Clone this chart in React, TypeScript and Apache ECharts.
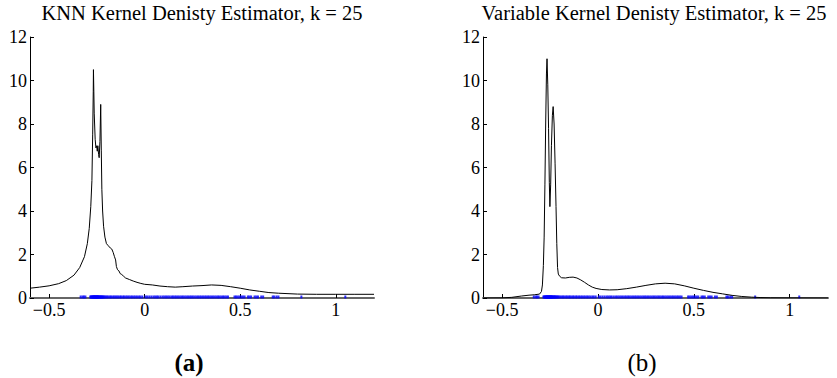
import React, { useEffect, useRef } from "react";
import * as echarts from "echarts";

const titleLeft = "KNN Kernel Denisty Estimator, k = 25";
const titleRight = "Variable Kernel Denisty Estimator, k = 25";
const captionLeft = "(a)";
const captionRight = "(b)";

const xTicks = [-0.5, 0, 0.5, 1];
const yTicks = [0, 2, 4, 6, 8, 10, 12];

// KNN kernel density estimate (x, density)
const knnX = [-0.6, -0.55, -0.5, -0.45, -0.41, -0.37, -0.34, -0.315, -0.3, -0.29, -0.282, -0.276, -0.272, -0.269, -0.268, -0.264, -0.259, -0.255, -0.251, -0.248, -0.245, -0.241, -0.238, -0.234, -0.23, -0.227, -0.224, -0.22, -0.215, -0.208, -0.2, -0.19, -0.18, -0.172, -0.165, -0.158, -0.152, -0.148, -0.142, -0.135, -0.128, -0.12, -0.11, -0.1, -0.08, -0.06, -0.04, -0.02, 0, 0.04, 0.08, 0.12, 0.16, 0.2, 0.25, 0.3, 0.35, 0.4, 0.45, 0.5, 0.55, 0.6, 0.65, 0.7, 0.8, 0.9, 1.0, 1.1, 1.2];
const knnY = [0.45, 0.5, 0.56, 0.66, 0.8, 1.05, 1.4, 1.9, 2.5, 3.2, 4.2, 5.4, 7.5, 9.5, 10.5, 8.5, 7.3, 6.9, 7.0, 6.75, 7.0, 6.6, 6.45, 7.2, 8.9, 6.8, 5.0, 4.0, 3.3, 2.8, 2.5, 2.4, 2.3, 2.25, 2.1, 1.9, 1.75, 1.45, 1.3, 1.25, 1.12, 1.08, 1.0, 0.92, 0.85, 0.78, 0.72, 0.67, 0.63, 0.6, 0.55, 0.52, 0.5, 0.52, 0.55, 0.57, 0.6, 0.58, 0.52, 0.45, 0.37, 0.31, 0.25, 0.22, 0.18, 0.17, 0.17, 0.17, 0.17];

// Variable kernel density estimate (x, density)
const varX = [-0.6, -0.5, -0.45, -0.4, -0.36, -0.33, -0.305, -0.295, -0.29, -0.285, -0.281, -0.277, -0.273, -0.269, -0.266, -0.262, -0.258, -0.254, -0.251, -0.247, -0.243, -0.238, -0.234, -0.229, -0.224, -0.219, -0.215, -0.211, -0.207, -0.2, -0.19, -0.17, -0.15, -0.13, -0.11, -0.09, -0.07, -0.05, -0.03, -0.01, 0.02, 0.06, 0.1, 0.15, 0.2, 0.25, 0.3, 0.35, 0.4, 0.45, 0.5, 0.55, 0.6, 0.65, 0.7, 0.75, 0.8, 0.85, 0.9, 1.0, 1.2];
const varY = [0, 0.005, 0.03, 0.09, 0.13, 0.15, 0.18, 0.3, 0.6, 1.5, 2.8, 5.2, 8.0, 10.3, 11.0, 9.8, 7.8, 5.3, 4.2, 5.2, 7.0, 8.4, 8.8, 8.0, 6.2, 4.2, 2.5, 1.4, 1.1, 1.0, 0.93, 0.92, 0.95, 0.96, 0.92, 0.83, 0.72, 0.6, 0.5, 0.44, 0.39, 0.37, 0.38, 0.43, 0.5, 0.58, 0.65, 0.68, 0.65, 0.56, 0.45, 0.35, 0.26, 0.19, 0.12, 0.07, 0.04, 0.02, 0.01, 0.005, 0];

// Sample locations (rug)
const samples = [-0.335, -0.325, -0.318, -0.31, -0.285, -0.281, -0.278, -0.275, -0.272, -0.27, -0.268, -0.266, -0.264, -0.262, -0.26, -0.258, -0.256, -0.254, -0.252, -0.25, -0.248, -0.246, -0.244, -0.242, -0.24, -0.237, -0.234, -0.231, -0.228, -0.225, -0.222, -0.218, -0.214, -0.209, -0.204, -0.197, -0.19, -0.183, -0.176, -0.168, -0.161, -0.153, -0.147, -0.139, -0.131, -0.124, -0.115, -0.108, -0.099, -0.091, -0.083, -0.074, -0.066, -0.057, -0.049, -0.04, -0.03, -0.022, -0.012, 0.004, 0.013, 0.024, 0.035, 0.046, 0.055, 0.064, 0.072, 0.083, 0.094, 0.103, 0.112, 0.121, 0.13, 0.14, 0.148, 0.157, 0.165, 0.174, 0.183, 0.192, 0.2, 0.209, 0.218, 0.227, 0.236, 0.244, 0.252, 0.261, 0.27, 0.279, 0.288, 0.296, 0.305, 0.314, 0.322, 0.331, 0.339, 0.348, 0.357, 0.366, 0.375, 0.384, 0.392, 0.401, 0.41, 0.418, 0.427, 0.436, 0.47, 0.478, 0.487, 0.496, 0.505, 0.514, 0.523, 0.54, 0.548, 0.557, 0.575, 0.584, 0.593, 0.61, 0.62, 0.67, 0.678, 0.69, 0.7, 0.82, 1.05];

const FONT = "Liberation Serif";

const fmtX = (v: number) => (v < 0 ? "\u2212" + String(Math.abs(v)) : String(v));

function makeX(idx: number) {
  return {
    type: "value",
    gridIndex: idx,
    min: -0.6,
    max: 1.2,
    axisLine: { show: true, onZero: false, lineStyle: { color: "#666", width: 2 } },
    axisTick: { show: true, inside: true, length: 4, customValues: xTicks, lineStyle: { color: "#000", width: 1 } },
    axisLabel: { customValues: xTicks, formatter: fmtX, color: "#000", fontSize: 18, fontFamily: FONT, margin: 3 },
    splitLine: { show: false },
  };
}

function makeY(idx: number) {
  return {
    type: "value",
    gridIndex: idx,
    min: 0,
    max: 12,
    interval: 2,
    axisLine: { show: true, onZero: false, lineStyle: { color: "#000", width: 1 } },
    axisTick: { show: true, inside: true, length: 4, customValues: yTicks, lineStyle: { color: "#000", width: 1 } },
    axisLabel: { customValues: yTicks, color: "#000", fontSize: 18, fontFamily: FONT, margin: 3 },
    splitLine: { show: false },
  };
}

function txt(text: string, x: number, y: number, size: number, weight: string) {
  return {
    type: "text",
    x,
    y,
    style: { text, fill: "#000", fontSize: size, fontFamily: FONT, fontWeight: weight, align: "center", verticalAlign: "middle" },
  };
}

export default function App() {
  const ref = useRef<HTMLDivElement>(null);
  useEffect(() => {
    if (!ref.current) return;
    const chart = echarts.init(ref.current, undefined, { renderer: "svg" });
    const knn = knnX.map((x, i) => [x, knnY[i]]);
    const vk = varX.map((x, i) => [x, varY[i]]);
    const rug = samples.map((x) => [x, 0]);
    chart.setOption({
      animation: false,
      backgroundColor: "#fff",
      grid: [
        { left: 30, top: 37, width: 344, height: 261 },
        { left: 483, top: 37, width: 345, height: 261 },
      ],
      xAxis: [makeX(0), makeX(1)],
      yAxis: [makeY(0), makeY(1)],
      series: [
        { type: "scatter", xAxisIndex: 0, yAxisIndex: 0, data: rug, symbol: "rect", symbolSize: [2, 3], symbolOffset: [0, -1], itemStyle: { color: "#0000ff" }, silent: true, z: 3 },
        { type: "line", xAxisIndex: 0, yAxisIndex: 0, data: knn, showSymbol: false, lineStyle: { color: "#000", width: 1 }, z: 4 },
        { type: "scatter", xAxisIndex: 1, yAxisIndex: 1, data: rug, symbol: "rect", symbolSize: [2, 3], symbolOffset: [0, -1], itemStyle: { color: "#0000ff" }, silent: true, z: 3 },
        { type: "line", xAxisIndex: 1, yAxisIndex: 1, data: vk, showSymbol: false, lineStyle: { color: "#000", width: 1 }, z: 4 },
      ],
      graphic: [
        txt(titleLeft, 202, 13, 20.5, "normal"),
        txt(titleRight, 654, 13, 20.5, "normal"),
        txt(captionLeft, 189, 362, 25, "bold"),
        txt(captionRight, 642, 362, 25, "normal"),
      ],
    });
    return () => chart.dispose();
  }, []);
  return <div ref={ref} style={{ width: 837, height: 378, position: "absolute", left: 0, top: 0 }} />;
}
